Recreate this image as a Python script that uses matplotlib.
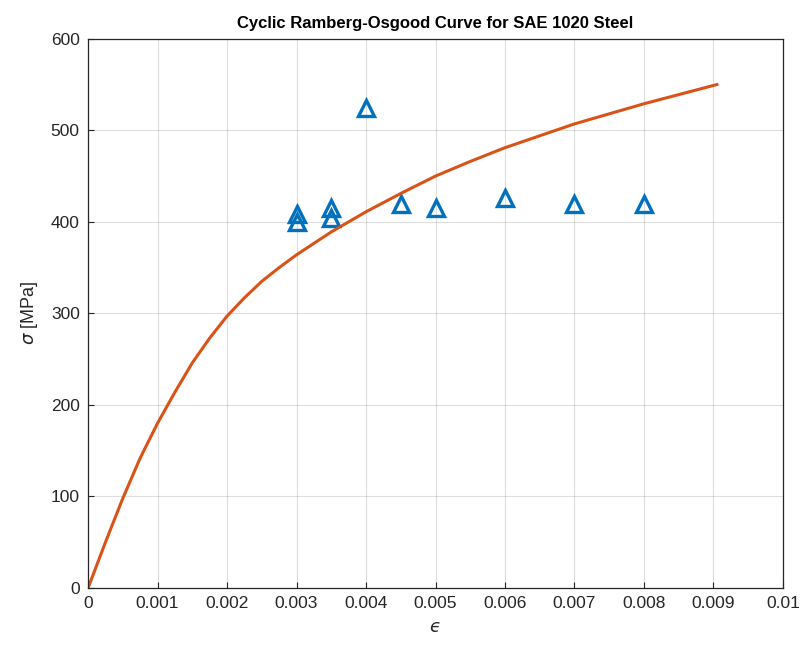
import matplotlib.pyplot as plt
import numpy as np

plt.rcParams['font.family'] = ['Liberation Sans', 'DejaVu Sans']

# test data (strain, stress in MPa)
eps_data = [0.003, 0.003, 0.0035, 0.0035, 0.004, 0.0045, 0.005, 0.006, 0.007, 0.008]
sig_data = [409, 400, 415, 404, 524, 420, 415, 426, 420, 420]

# cyclic Ramberg-Osgood curve
eps_curve = [0, 0.00025, 0.0005, 0.00075, 0.001, 0.00125, 0.0015, 0.00175, 0.002,
             0.00225, 0.0025, 0.00275, 0.003, 0.0035, 0.004, 0.0045, 0.005, 0.0055,
             0.006, 0.0065, 0.007, 0.0075, 0.008, 0.0085, 0.009, 0.00905]
sig_curve = [0, 50, 98, 142, 180, 214, 246, 273, 297,
             317, 335, 350, 364, 389, 411, 431, 450, 466,
             481, 494, 507, 518, 529, 539, 549, 550]

xticks = np.arange(0, 0.0101, 0.001)
xticklabels = ['0', '0.001', '0.002', '0.003', '0.004', '0.005',
               '0.006', '0.007', '0.008', '0.009', '0.01']

fig = plt.figure(figsize=(8.08, 6.57), dpi=100)
ax = fig.add_axes([0.109, 0.105, 0.860, 0.836])

ax.plot(eps_data, sig_data, linestyle='none', marker='^', markersize=11,
        markerfacecolor='none', markeredgecolor='#0072BD', markeredgewidth=2.4)
ax.plot(eps_curve, sig_curve, color='#D95319', linewidth=2.2)

ax.set_xlim(0, 0.01)
ax.set_ylim(0, 600)
ax.set_xticks(xticks)
ax.set_xticklabels(xticklabels, fontsize=11.5)
ax.set_yticks(range(0, 601, 100))
ax.tick_params(direction='in', length=4, colors='#262626', labelsize=12.5, pad=6,
               top=False, right=False)
ax.grid(True, color='#262626', alpha=0.15, linewidth=0.8)
ax.set_axisbelow(True)
for s in ax.spines.values():
    s.set_color('#262626')
    s.set_linewidth(0.9)

ax.set_xlabel('ϵ', fontsize=13, color='#262626', labelpad=5, style='italic',
              family=['DejaVu Sans'])
ax.set_ylabel('$\\sigma$ [MPa]', fontsize=13, color='#262626', labelpad=8)
ax.set_title('Cyclic Ramberg-Osgood Curve for SAE 1020 Steel', fontsize=12,
             fontweight='bold', pad=8)

fig.savefig('out.png', dpi=100)
